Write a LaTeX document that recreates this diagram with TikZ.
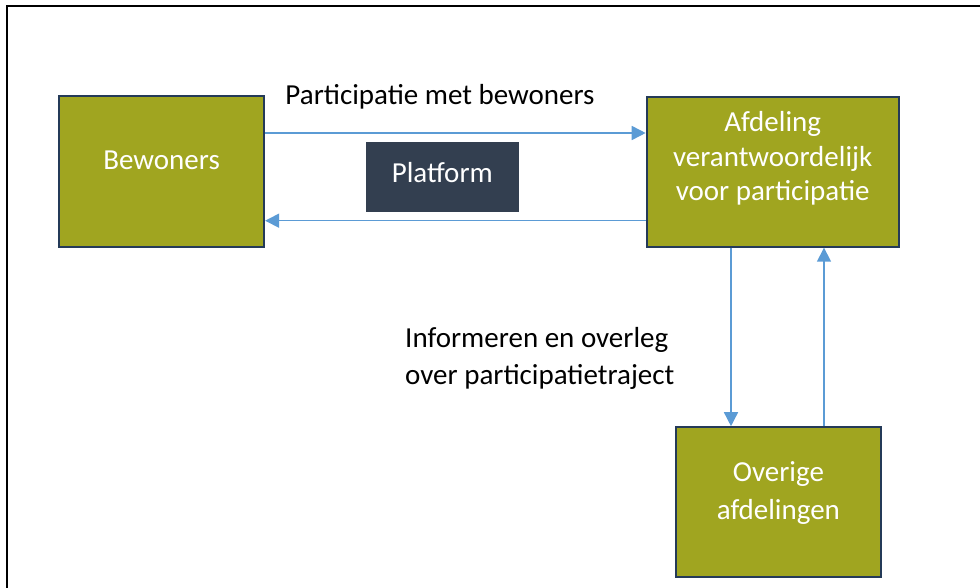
\documentclass[tikz,border=0pt]{standalone}
\usepackage{fontspec}
\setmainfont{Carlito}
\usetikzlibrary{arrows.meta}
\definecolor{boxolive}{RGB}{160,165,32}
\definecolor{boxline}{RGB}{36,58,88}
\definecolor{platfill}{RGB}{51,63,80}
\definecolor{flowblue}{RGB}{91,155,213}
\begin{document}
\begin{tikzpicture}[x=1pt,y=-1pt,
  unitbox/.style={draw=boxline,line width=2pt,fill=boxolive,inner sep=0pt},
  platbox/.style={fill=platfill,inner sep=0pt,minimum width=153pt,minimum height=70pt},
  boxtext/.style={text=white,inner sep=0pt,align=center,font=\fontsize{29}{34.5}\selectfont},
  lbl/.style={text=black,inner sep=0pt,font=\fontsize{29}{37}\selectfont},
  flow/.style={draw=flowblue,line width=1.6pt,-{Triangle[length=14pt,width=14pt]}},
  frame/.style={draw=black,line width=2pt}]
\useasboundingbox (0,0) rectangle (980,588);
% outer frame (top and left edges)
\draw[frame] (980,6) -- (7,6) -- (7,588);

% boxes
\node[unitbox,minimum width=205pt,minimum height=151pt] (bew) at (161.6,172) {};
\node[unitbox,minimum width=252pt,minimum height=150pt] (afd) at (772.7,171.7) {};
\node[unitbox,minimum width=205pt,minimum height=150pt] (ove) at (778.4,502.2) {};
\node[platbox] (plat) at (442.7,176.7) {};

% box texts (multi-line nodes sit on the baseline of their last line)
\node[boxtext,anchor=base] (bewt) at (161.6,170) {Bewoners};
\node[boxtext,anchor=base] (afdt) at (772.7,200.7) {Afdeling\\verantwoordelijk\\voor participatie};
\node[boxtext,anchor=base,font=\fontsize{29}{38}\selectfont] (ovet) at (778.4,519) {Overige\\afdelingen};
\node[boxtext,anchor=base] (platt) at (442.3,182.3) {Platform};

% connectors
\draw[flow] ([yshift=39pt]bew.east) -- ([yshift=39pt]bew.east -| afd.west);
\draw[flow] ([yshift=-49pt]afd.west) -- ([yshift=-49pt]afd.west -| bew.east);
\draw[flow] ([xshift=-41.7pt]afd.south) -- ([xshift=-41.7pt]afd.south |- ove.north);
\draw[flow] ([xshift=51.3pt]afd.south |- ove.north) -- ([xshift=51.3pt]afd.south);

% labels
\node[lbl,anchor=base] (ptext) at (440,105) {Participatie met bewoners};
\node[lbl,anchor=base west,align=left] (itext) at (405,384) {Informeren en overleg\\over participatietraject};
\end{tikzpicture}
\end{document}
